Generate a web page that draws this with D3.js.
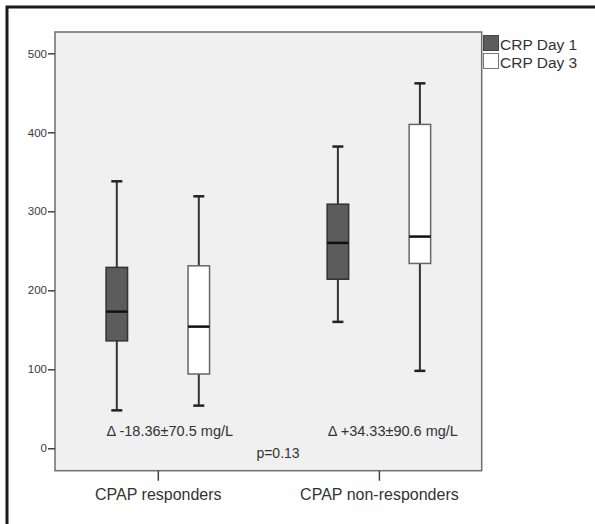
<!DOCTYPE html>
<html>
<head>
<meta charset="utf-8">
<script src="https://cdn.jsdelivr.net/npm/d3@7"></script>
<style>
  body { margin: 0; background: #fff; }
  svg text { font-family: "Liberation Sans", Arial, sans-serif; }
</style>
</head>
<body>
<div id="chart"></div>
<script>
// categories and series
var groups = ['CPAP responders', 'CPAP non-responders'];
var seriesNames = ['CRP Day 1', 'CRP Day 3'];
var seriesFill = ['#5c5c5c', '#ffffff'];

// box stats per group: [min, q1, median, q3, max]
var day1Stats = [[48, 136, 173, 229, 338], [160, 214, 260, 309, 382]];
var day3Stats = [[54, 94, 154, 231, 319], [98, 234, 268, 410, 462]];

var yTicks = [0, 100, 200, 300, 400, 500];
var deltaLabels = ['\u0394 -18.36\u00b170.5 mg/L', '\u0394 +34.33\u00b190.6 mg/L'];
var pLabel = 'p=0.13';

var width = 595, height = 524;
var plot = {left: 55, top: 32, right: 481.7, bottom: 470.7};

var svg = d3.select('#chart').append('svg')
    .attr('width', width)
    .attr('height', height);

// outer frame (cut off at right/bottom)
svg.append('rect')
    .attr('x', 7).attr('y', 7)
    .attr('width', 620).attr('height', 560)
    .attr('fill', '#fff')
    .attr('stroke', '#1a1a1a')
    .attr('stroke-width', 3);

var y = d3.scaleLinear()
    .domain([-28.4, 527])
    .range([plot.bottom, plot.top]);

var x = d3.scalePoint()
    .domain(groups)
    .range([plot.left, plot.right])
    .padding(0.465);

var xInner = d3.scalePoint()
    .domain(seriesNames)
    .range([-41, 41]);

var boxWidth = 21.5;

// plot area
svg.append('rect')
    .attr('x', plot.left).attr('y', plot.top)
    .attr('width', plot.right - plot.left)
    .attr('height', plot.bottom - plot.top)
    .attr('fill', '#f0f0f0')
    .attr('stroke', '#6e6e6e')
    .attr('stroke-width', 1.5);

// y axis
var yAxis = svg.append('g')
    .attr('transform', 'translate(' + plot.left + ',0)')
    .call(d3.axisLeft(y).tickValues(yTicks).tickSize(7).tickPadding(1));
yAxis.select('.domain').remove();
yAxis.selectAll('line').attr('stroke', '#444').attr('stroke-width', 1.5);
yAxis.selectAll('text')
    .attr('fill', '#3a3a3a')
    .style('font-size', '11.5px')
    .style('font-family', '"Liberation Sans", Arial, sans-serif');

// x axis
var xAxis = svg.append('g')
    .attr('transform', 'translate(0,' + plot.bottom + ')')
    .call(d3.axisBottom(x).tickSize(10).tickPadding(8));
xAxis.select('.domain').remove();
xAxis.selectAll('line').attr('stroke', '#444').attr('stroke-width', 1.5);
xAxis.selectAll('text')
    .attr('fill', '#333')
    .style('font-size', '16px')
    .style('font-family', '"Liberation Sans", Arial, sans-serif');

// boxes
var allStats = [day1Stats, day3Stats];
seriesNames.forEach(function(name, si) {
    groups.forEach(function(g, gi) {
        var s = allStats[si][gi];
        var cx = x(g) + xInner(name);
        var box = svg.append('g');

        box.append('line')
            .attr('x1', cx).attr('x2', cx)
            .attr('y1', y(s[0])).attr('y2', y(s[4]))
            .attr('stroke', '#333').attr('stroke-width', 2);

        [s[0], s[4]].forEach(function(v) {
            box.append('line')
                .attr('x1', cx - 5.5).attr('x2', cx + 5.5)
                .attr('y1', y(v)).attr('y2', y(v))
                .attr('stroke', '#222').attr('stroke-width', 2.5);
        });

        box.append('rect')
            .attr('x', cx - boxWidth / 2)
            .attr('y', y(s[3]))
            .attr('width', boxWidth)
            .attr('height', y(s[1]) - y(s[3]))
            .attr('fill', seriesFill[si])
            .attr('stroke', si == 0 ? '#333' : '#666')
            .attr('stroke-width', 1.5);

        box.append('line')
            .attr('x1', cx - boxWidth / 2).attr('x2', cx + boxWidth / 2)
            .attr('y1', y(s[2])).attr('y2', y(s[2]))
            .attr('stroke', '#111').attr('stroke-width', 2.5);
    });
});

// annotations
svg.selectAll('.delta')
    .data(deltaLabels)
    .enter().append('text')
    .attr('class', 'delta')
    .attr('x', function(d, i) { return x(groups[i]) + (i == 0 ? 12 : 14); })
    .attr('y', 436)
    .attr('text-anchor', 'middle')
    .attr('fill', '#333')
    .style('font-size', '14.5px')
    .text(function(d) { return d; });

svg.append('text')
    .attr('x', 278)
    .attr('y', 458)
    .attr('text-anchor', 'middle')
    .attr('fill', '#333')
    .style('font-size', '14px')
    .text(pLabel);

// legend
var legend = svg.append('g')
    .attr('transform', 'translate(483,35)');
seriesNames.forEach(function(name, i) {
    legend.append('rect')
        .attr('x', 0.5).attr('y', i * 18 + 0.5)
        .attr('width', 15).attr('height', 15)
        .attr('fill', seriesFill[i])
        .attr('stroke', i == 0 ? '#444' : '#777')
        .attr('stroke-width', 1);
    legend.append('text')
        .attr('x', 17)
        .attr('y', i * 18 + 15)
        .attr('fill', '#333')
        .style('font-size', '15.5px')
        .text(name);
});
</script>
</body>
</html>
